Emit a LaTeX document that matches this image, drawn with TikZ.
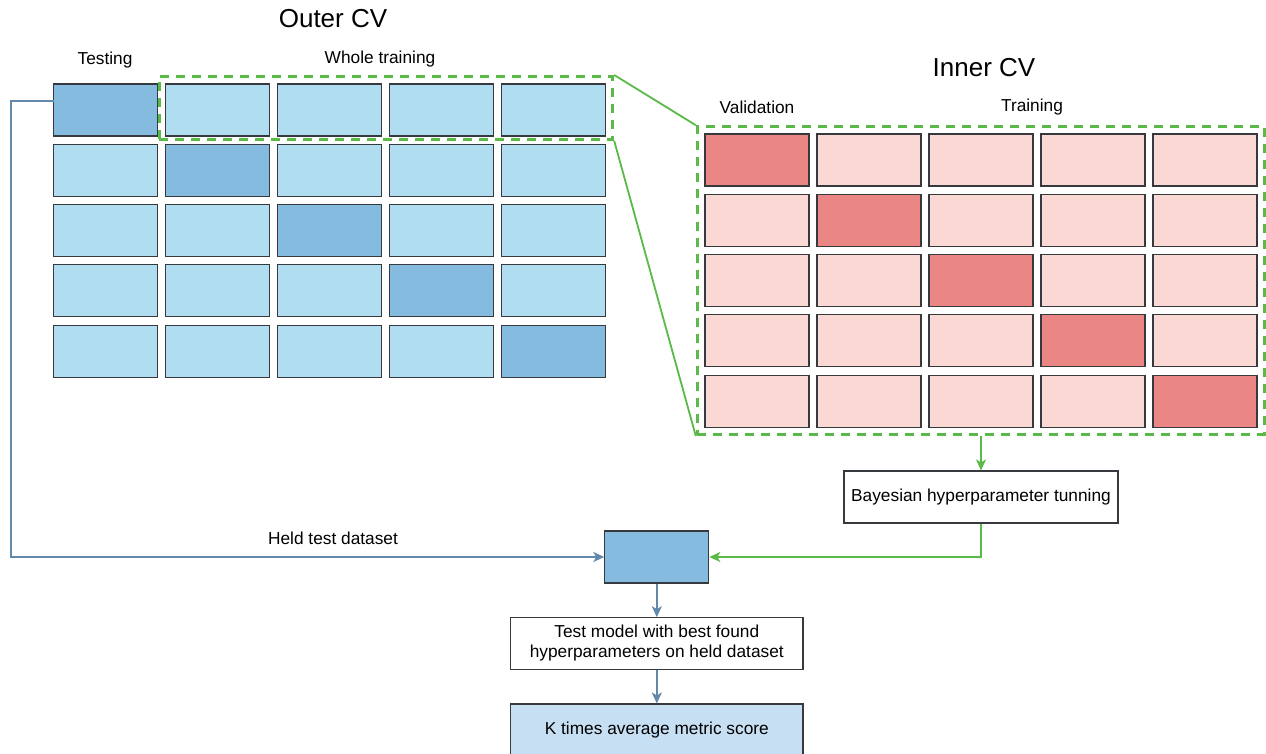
\documentclass[tikz,border=0pt]{standalone}
\usepackage{fontspec}
\setmainfont{Liberation Sans}
\usetikzlibrary{arrows.meta}
\definecolor{dkblue}{HTML}{85BBDE}
\definecolor{ltblue}{HTML}{B1DDF0}
\definecolor{dkred}{HTML}{EA8784}
\definecolor{ltred}{HTML}{FAD9D5}
\definecolor{grn}{HTML}{59BA48}
\definecolor{bline}{HTML}{6288AA}
\definecolor{resfill}{HTML}{C7DFF3}
\definecolor{edge}{HTML}{36393D}
\begin{document}
\begin{tikzpicture}[x=1pt,y=-1pt,
  cell/.style={draw=edge, line width=1.1pt, inner sep=0pt, minimum width=104pt, minimum height=52pt},
  group/.style={draw=grn, line width=3pt, dash pattern=on 9pt off 7pt, inner sep=0pt},
  gline/.style={draw=grn, line width=1.8pt},
  garrow/.style={gline, -{Stealth[length=11pt,width=10pt,inset=3pt]}},
  barrow/.style={draw=bline, line width=1.8pt, -{Stealth[length=11pt,width=10pt,inset=3pt]}},
  stepbox/.style={draw=edge, line width=1.1pt, fill=white, inner sep=0pt, align=center,
    font=\fontsize{17.3}{20}\selectfont},
  lbl/.style={inner sep=0pt, font=\fontsize{17.3}{20}\selectfont},
  title/.style={inner sep=0pt, font=\fontsize{26}{30}\selectfont}]
\useasboundingbox (0,0) rectangle (1266,754);

% titles and column labels
\node[title] (outertitle) at (333,19) {Outer CV};
\node[title] (innertitle) at (984,68) {Inner CV};
\node[lbl] (testing) at (105,60) {Testing};
\node[lbl] (wholetrain) at (380,59) {Whole training};
\node[lbl] (validation) at (757,107) {Validation};
\node[lbl] (training) at (1032,107) {Training};

% outer folds
\foreach \r in {1,...,5}{
  \foreach \c in {1,...,5}{
    \ifnum\r=\c\def\fc{dkblue}\else\def\fc{ltblue}\fi
    \node[cell, fill=\fc] (o\r\c) at ({105.5+112*(\c-1)},{110+60.3*(\r-1)}) {};
  }
}
% inner folds
\foreach \r in {1,...,5}{
  \foreach \c in {1,...,5}{
    \ifnum\r=\c\def\fc{dkred}\else\def\fc{ltred}\fi
    \node[cell, fill=\fc] (i\r\c) at ({757+112*(\c-1)},{160+60.3*(\r-1)}) {};
  }
}

% dashed groups
\node[group, minimum width=453.7pt, minimum height=62.8pt] (outerbox) at (385.85,107.9) {};
\node[group, minimum width=566.7pt, minimum height=307.8pt] (innerbox) at (980.65,280.6) {};
\draw[gline] (outerbox.north east) -- (innerbox.north west);
\draw[gline] (outerbox.south east) -- (innerbox.south west);

% process boxes
\node[stepbox, minimum width=274pt, minimum height=52pt] (bayes) at (981,497) {Bayesian hyperparameter tunning};
\node[cell, fill=dkblue] (held) at (656.8,557) {};
\node[stepbox, minimum width=292.3pt, minimum height=51.6pt] (testbox) at (656.8,643.5)
  {Test model with best found\\hyperparameters on held dataset};
\node[stepbox, fill=resfill, minimum width=292.3pt, minimum height=52pt] (result) at (656.8,730)
  {K times average metric score};

% connectors
\coordinate (tapout) at (54,101);
\coordinate (leftcorner) at (11,557);
\draw[barrow] (tapout) -| (leftcorner) -- (held.west);
\node[lbl] (heldlbl) at (333,538) {Held test dataset};
\draw[garrow] (bayes.north |- innerbox.south) -- (bayes.north);
\draw[garrow] (bayes.south) |- (held.east);
\draw[barrow] (held.south) -- (testbox.north);
\draw[barrow] (testbox.south) -- (result.north);
\end{tikzpicture}
\end{document}
